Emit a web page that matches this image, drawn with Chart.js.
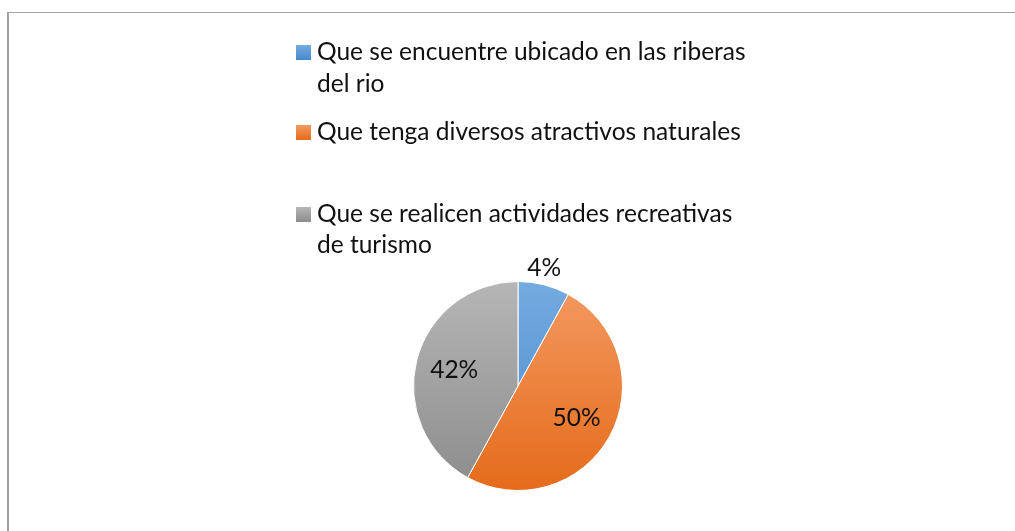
<!DOCTYPE html>
<html lang="es">
<head>
<meta charset="UTF-8">
<title>Pie</title>
<script src="https://cdn.jsdelivr.net/npm/chart.js"></script>
<style>
  html,body{margin:0;padding:0;background:#fff;width:1015px;height:531px;overflow:hidden}
  .frame{position:absolute;left:7px;top:12px;width:1100px;height:600px;border-top:1px solid #a6a6a6;border-left:2px solid #a0a0a0}
  .wrap{position:absolute;left:0;top:0;width:1015px;height:531px}
</style>
</head>
<body>
<div class="frame"></div>
<div class="wrap"><canvas id="pie"></canvas></div>
<script>
// categories (legend lines already split as in the picture)
const categories = [
  ['Que se encuentre ubicado en las riberas', 'del rio'],
  ['Que tenga diversos atractivos naturales'],
  ['Que se realicen actividades recreativas', 'de turismo']
];
// slice sizes
const values = [8, 50, 42];
// labels as printed on the chart
const valueLabels = ['4%', '50%', '42%'];

const topColors = ['#74abe0', '#f39a62', '#b6b6b6'];
const bottomColors = ['#4889cc', '#e56b1a', '#8c8c8c'];

function sliceFill(ctx) {
  const area = ctx.chart.chartArea;
  if (!area) return topColors[ctx.dataIndex];
  const g = ctx.chart.ctx.createLinearGradient(0, area.top, 0, area.bottom);
  g.addColorStop(0, topColors[ctx.dataIndex]);
  g.addColorStop(1, bottomColors[ctx.dataIndex]);
  return g;
}

const FONT = '24.5px Lato, "Open Sans", sans-serif';

const legendPlugin = {
  id: 'sideLegend',
  afterDraw(chart) {
    const c = chart.ctx;
    const baselines = [[60, 92], [140], [222, 253]];
    c.save();
    c.font = FONT;
    c.textBaseline = 'alphabetic';
    categories.forEach((lines, i) => {
      const g = c.createLinearGradient(0, baselines[i][0] - 15, 0, baselines[i][0]);
      g.addColorStop(0, topColors[i]);
      g.addColorStop(1, bottomColors[i]);
      c.fillStyle = g;
      c.fillRect(296, baselines[i][0] - 15, 15, 15);
      c.fillStyle = '#111';
      lines.forEach((t, j) => c.fillText(t, 317, baselines[i][j]));
    });
    c.restore();
  }
};

const labelPlugin = {
  id: 'sliceLabels',
  afterDatasetsDraw(chart) {
    const c = chart.ctx;
    const meta = chart.getDatasetMeta(0);
    const factors = [1.16, 0.64, 0.63];
    c.save();
    c.font = FONT;
    c.fillStyle = '#111';
    c.textAlign = 'center';
    c.textBaseline = 'middle';
    meta.data.forEach((arc, i) => {
      const mid = (arc.startAngle + arc.endAngle) / 2;
      const r = arc.outerRadius * factors[i];
      c.fillText(valueLabels[i], arc.x + Math.cos(mid) * r - (i === 0 ? 4 : 0), arc.y + Math.sin(mid) * r);
    });
    c.restore();
  }
};

new Chart(document.getElementById('pie'), {
  type: 'pie',
  data: {
    labels: categories.map(l => l.join(' ')),
    datasets: [{
      data: values,
      backgroundColor: sliceFill,
      borderColor: '#ffffff',
      borderWidth: 1
    }]
  },
  options: {
    responsive: true,
    maintainAspectRatio: false,
    animation: false,
    layout: { padding: { top: 281, bottom: 40, left: 21, right: 0 } },
    plugins: { legend: { display: false }, tooltip: { enabled: false } }
  },
  plugins: [legendPlugin, labelPlugin]
});
</script>
</body>
</html>
